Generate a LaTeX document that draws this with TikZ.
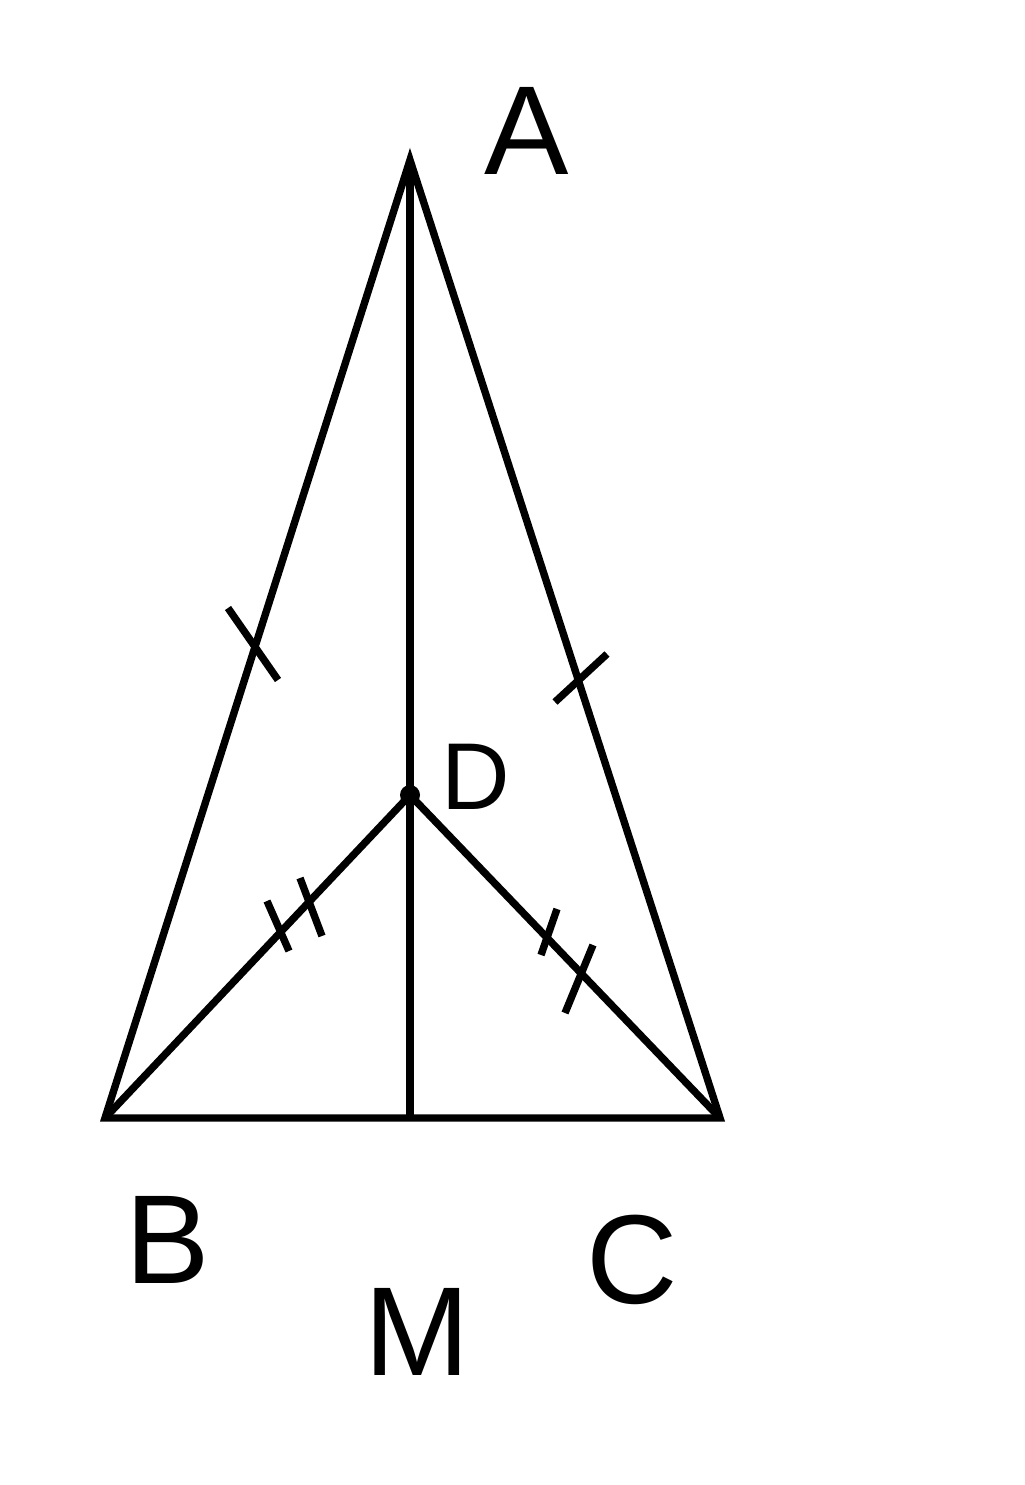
\documentclass[tikz,border=0pt]{standalone}
\usepackage{fontspec}
\setmainfont{Liberation Sans}
\usepackage{tikz}
\usetikzlibrary{calc}

\begin{document}
\begin{tikzpicture}[
    x=0.01cm, y=-0.01cm,
    side/.style={draw, line width=2.1pt},
    tickline/.style={draw, line width=2.1pt},
    lbl/.style={inner sep=0pt, font=\fontsize{36}{40}\selectfont},
    lblsmall/.style={inner sep=0pt, font=\fontsize{27}{31}\selectfont}
]
\useasboundingbox (0,0) rectangle (1024,1485);

% Points
\coordinate (A) at (410,160);
\coordinate (B) at (105,1118);
\coordinate (C) at (720,1118);
\coordinate (M) at (410,1118);
\coordinate (D) at (410,795);

% Sides
\draw[side] (A) -- (B) -- (C) -- cycle;
\draw[side] (A) -- (M);
\draw[side] (B) -- (D) -- (C);
\fill (D) circle (10);

% Ticks
\coordinate (tab) at (253,644);
\coordinate (tac) at (581,678);
\coordinate (tbd1) at (278,926);
\coordinate (tbd2) at (311,907);
\coordinate (tdc1) at (549,932);
\coordinate (tdc2) at (579,979);
\draw[tickline] ($(tab)+(-25,-36)$) -- ($(tab)+(25,36)$);
\draw[tickline] ($(tac)+(-26,24)$) -- ($(tac)+(26,-24)$);
\draw[tickline] ($(tbd1)+(-11,-25)$) -- ($(tbd1)+(11,25)$);
\draw[tickline] ($(tbd2)+(-11,-29)$) -- ($(tbd2)+(11,29)$);
\draw[tickline] ($(tdc1)+(8,-23)$) -- ($(tdc1)+(-8,23)$);
\draw[tickline] ($(tdc2)+(14,-34)$) -- ($(tdc2)+(-14,34)$);

% Labels
\node[lbl] (la) at (527,131) {A};
\node[lbl] (lb) at (168,1240) {B};
\node[lbl] (lc) at (632,1260) {C};
\node[lbl] (lm) at (417,1332) {M};
\node[lblsmall] (ld) at (476,777) {D};

\end{tikzpicture}
\end{document}
